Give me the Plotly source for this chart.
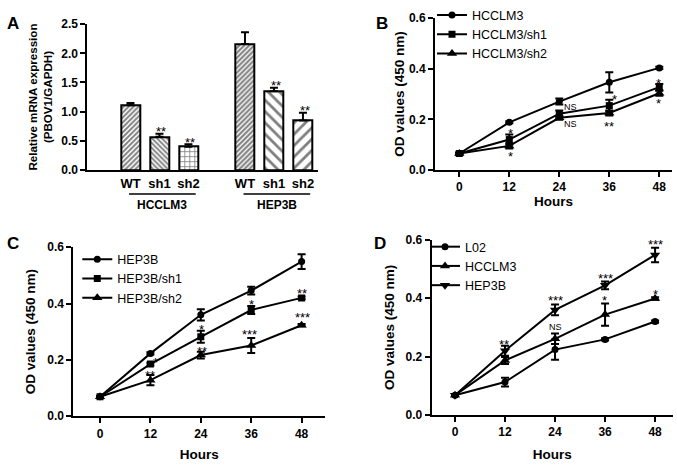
import plotly.graph_objects as go

FONT = "Liberation Sans, Arial, sans-serif"

# ---------------- Panel A data ----------------
bar_groups = ["HCCLM3", "HEP3B"]
bar_labels = ["WT", "sh1", "sh2"]
hcclm3_expr = [1.11, 0.57, 0.40]
hcclm3_err = [0.04, 0.05, 0.04]
hep3b_expr = [2.16, 1.35, 0.85]
hep3b_err = [0.20, 0.06, 0.13]
bar_sig = ["", "**", "**"]

# ---------------- Line panels data ----------------
hours = [0, 12, 24, 36, 48]

# Panel B
b_names = ["HCCLM3", "HCCLM3/sh1", "HCCLM3/sh2"]
b_hcclm3 = [0.065, 0.188, 0.270, 0.346, 0.403]
b_hcclm3_err = [0.004, 0.004, 0.012, 0.040, 0.004]
b_sh1 = [0.065, 0.120, 0.222, 0.254, 0.327]
b_sh1_err = [0.003, 0.020, 0.013, 0.023, 0.012]
b_sh2 = [0.065, 0.095, 0.206, 0.225, 0.303]
b_sh2_err = [0.003, 0.010, 0.008, 0.010, 0.010]
b_sig_text = ["*", "*", "NS", "NS", "*", "**", "*", "*"]
b_sig_x = [12.2, 12.2, 26.6, 26.6, 37.2, 35.9, 47.9, 47.9]
b_sig_y = [0.155, 0.064, 0.248, 0.180, 0.290, 0.184, 0.353, 0.273]

# Panel C
c_names = ["HEP3B", "HEP3B/sh1", "HEP3B/sh2"]
c_hep3b = [0.069, 0.223, 0.360, 0.446, 0.549]
c_hep3b_err = [0.003, 0.004, 0.020, 0.014, 0.026]
c_sh1 = [0.069, 0.185, 0.282, 0.377, 0.420]
c_sh1_err = [0.003, 0.005, 0.021, 0.014, 0.005]
c_sh2 = [0.069, 0.128, 0.217, 0.251, 0.323]
c_sh2_err = [0.003, 0.018, 0.012, 0.027, 0.004]
c_sig_text = ["*", "**", "*", "**", "*", "***", "**", "***"]
c_sig_x = [13.25, 11.9, 24.2, 24.2, 36.1, 35.7, 48.2, 48.2]
c_sig_y = [0.203, 0.154, 0.318, 0.242, 0.406, 0.299, 0.448, 0.360]

# Panel D
d_names = ["L02", "HCCLM3", "HEP3B"]
d_l02 = [0.068, 0.113, 0.224, 0.259, 0.320]
d_l02_err = [0.003, 0.015, 0.035, 0.004, 0.004]
d_hcclm3 = [0.068, 0.187, 0.261, 0.344, 0.399]
d_hcclm3_err = [0.003, 0.012, 0.018, 0.038, 0.004]
d_hep3b = [0.068, 0.220, 0.360, 0.444, 0.548]
d_hep3b_err = [0.003, 0.017, 0.018, 0.013, 0.025]
d_sig_text = ["**", "***", "NS", "***", "*", "***", "*"]
d_sig_x = [11.8, 24.0, 24.0, 36.0, 35.8, 48.0, 48.0]
d_sig_y = [0.253, 0.402, 0.300, 0.479, 0.402, 0.595, 0.424]

fig = go.Figure()

# ---------------- Panel A bars ----------------
group_offset = 3.95
bar_width = 0.655
patterns = [
    dict(shape=["/", "\\", "+"], size=[3.5, 3.5, 5], solidity=[0.55, 0.55, 0.3]),
    dict(shape=["/", "\\", "/"], size=[3.5, 8, 8], solidity=[0.6, 0.35, 0.35]),
]
all_pos = []
for gi, (vals, errs) in enumerate([(hcclm3_expr, hcclm3_err), (hep3b_expr, hep3b_err)]):
    pos = [gi * group_offset + i for i in range(len(bar_labels))]
    all_pos.append(pos)
    p = patterns[gi]
    fig.add_trace(go.Bar(
        x=pos, y=vals, width=bar_width, xaxis="x", yaxis="y", showlegend=False,
        marker=dict(color="white", line=dict(color="black", width=2),
                    pattern=dict(shape=p["shape"], size=p["size"], solidity=p["solidity"],
                                 fgcolor="black", bgcolor="white", fillmode="overlay")),
        error_y=dict(type="data", array=errs, arrayminus=[0] * len(errs), symmetric=False,
                     color="black", thickness=2, width=4),
    ))
    for i, s in enumerate(bar_sig):
        if s:
            fig.add_annotation(x=pos[i], y=vals[i] + errs[i], xref="x", yref="y", text=s,
                               showarrow=False, yanchor="middle", yshift=2, xshift=2,
                               font=dict(family=FONT, size=13, color="black"))

# ---------------- Line panels ----------------
symbols = {"B": ["circle", "square", "triangle-up"],
           "C": ["circle", "square", "triangle-up"],
           "D": ["circle", "triangle-up", "triangle-down"]}
msize = {"circle": 7, "square": 7, "triangle-up": 9, "triangle-down": 9}

panels = [
    ("B", "x2", "y2", "legend", b_names, [(b_hcclm3, b_hcclm3_err), (b_sh1, b_sh1_err), (b_sh2, b_sh2_err)],
     b_sig_text, b_sig_x, b_sig_y),
    ("C", "x3", "y3", "legend2", c_names, [(c_hep3b, c_hep3b_err), (c_sh1, c_sh1_err), (c_sh2, c_sh2_err)],
     c_sig_text, c_sig_x, c_sig_y),
    ("D", "x4", "y4", "legend3", d_names, [(d_l02, d_l02_err), (d_hcclm3, d_hcclm3_err), (d_hep3b, d_hep3b_err)],
     d_sig_text, d_sig_x, d_sig_y),
]
for key, xa, ya, leg, names, series, stxt, sx, sy in panels:
    for name, (vals, errs), sym in zip(names, series, symbols[key]):
        fig.add_trace(go.Scatter(
            x=hours, y=vals, name=name, xaxis=xa, yaxis=ya, legend=leg,
            mode="lines+markers", line=dict(color="black", width=2),
            marker=dict(symbol=sym, size=msize[sym], color="black"),
            error_y=dict(type="data", array=errs, color="black", thickness=2, width=4),
        ))
    for t, x, y in zip(stxt, sx, sy):
        is_ns = t == "NS"
        fig.add_annotation(x=x, y=y, xref=xa, yref=ya, text=t, showarrow=False,
                           yanchor="middle", yshift=0 if is_ns else -3,
                           font=dict(family=FONT, size=9 if is_ns else 13, color="black"))

# ---------------- Axes ----------------
tickfont = dict(family=FONT, size=12, color="black", weight="bold")
titlefont = dict(family=FONT, size=13.5, color="black", weight="bold")
common = dict(showline=True, linecolor="black", linewidth=2, ticks="outside", ticklen=5,
              tickwidth=2, tickcolor="black", showgrid=False, zeroline=False, tickfont=tickfont)

W, H = 677, 465
def dx(a, b):
    return [a / W, b / W]
def dy(top, bottom):
    return [1 - bottom / H, 1 - top / H]

line_yaxis = dict(range=[0, 0.6], tickvals=[0, 0.2, 0.4, 0.6], tickformat=".1f")

xaxis_a = dict(common)
xaxis_a.update(ticks="", ticklen=0,
               tickfont=dict(family=FONT, size=13, color="black", weight="bold"),
               domain=dx(87.3, 318.3), range=[-1.49, 6.48], anchor="y",
               tickvals=all_pos[0] + all_pos[1], ticktext=bar_labels * 2)

fig.update_layout(
    width=W, height=H, margin=dict(l=0, r=0, t=0, b=0),
    paper_bgcolor="white", plot_bgcolor="white",
    font=dict(family=FONT, color="black"),
    xaxis=xaxis_a,
    yaxis=dict(**common, domain=dy(15.7, 166.7), range=[0, 2.5], anchor="x",
               tickvals=[0, 0.5, 1.0, 1.5, 2.0, 2.5], tickformat=".1f",
               title=dict(text="Relative mRNA expression<br>(PBOV1/GAPDH)", standoff=6,
                          font=dict(family=FONT, size=11.6, color="black", weight="bold"))),
    xaxis2=dict(**common, domain=dx(435, 672), range=[-5.83, 51.05], anchor="y2", tickvals=hours,
                title=dict(text="Hours", standoff=0, font=titlefont)),
    yaxis2=dict(**common, **line_yaxis, domain=dy(9.3, 166.7), anchor="x2",
                title=dict(text="OD values (450 nm)", standoff=1, font=titlefont)),
    xaxis3=dict(**common, domain=dx(73.3, 325), range=[-6.36, 53.57], anchor="y3", tickvals=hours,
                title=dict(text="Hours", standoff=10, font=titlefont)),
    yaxis3=dict(**common, **line_yaxis, domain=dy(246.7, 421.7), anchor="x3",
                title=dict(text="OD values (450 nm)", standoff=8, font=titlefont)),
    xaxis4=dict(**common, domain=dx(431.7, 673), range=[-5.59, 52.3], anchor="y4", tickvals=hours,
                title=dict(text="Hours", standoff=11, font=titlefont)),
    yaxis4=dict(**common, **line_yaxis, domain=dy(239, 420.5), anchor="x4",
                title=dict(text="OD values (450 nm)", standoff=8, font=titlefont)),
    bargap=0,
)

legfont = dict(family=FONT, size=12.5, color="black")
for lname, lx, ly in [("legend", 432 / W, 1 + 9 / H), ("legend2", 77.3 / W, 1 - 244 / H),
                      ("legend3", 425 / W, 1 - 231 / H)]:
    fig.update_layout(**{lname: dict(x=lx, y=ly, xanchor="left", yanchor="top",
                                     bgcolor="rgba(0,0,0,0)", font=legfont,
                                     itemwidth=30, tracegroupgap=0)})

# Group labels and underlines for panel A
for gi, g in enumerate(bar_groups):
    pos = all_pos[gi]
    fig.add_shape(type="line", xref="x", yref="paper", x0=pos[0] - 0.05, x1=pos[-1] + 0.25,
                  y0=1 - 191.7 / H, y1=1 - 191.7 / H, line=dict(color="black", width=1.5))
    fig.add_annotation(x=(pos[0] + pos[-1]) / 2 + 0.1, y=1 - 203.3 / H, xref="x", yref="paper",
                       text=g, showarrow=False, yanchor="middle",
                       font=dict(family=FONT, size=12, color="black", weight="bold"))

# Panel letters
for letter, px, py in [("A", 13.3, 15), ("B", 381.7, 15), ("C", 13.3, 243.3), ("D", 380, 243.3)]:
    fig.add_annotation(x=px / W, y=1 - py / H, xref="paper", yref="paper", text=letter,
                       showarrow=False, xanchor="center", yanchor="middle",
                       font=dict(family=FONT, size=17, color="black", weight="bold"))

fig.write_html("out.html", config={"displayModeBar": False},
               post_script="document.body.style.margin='0px';document.body.style.overflow='hidden';")
